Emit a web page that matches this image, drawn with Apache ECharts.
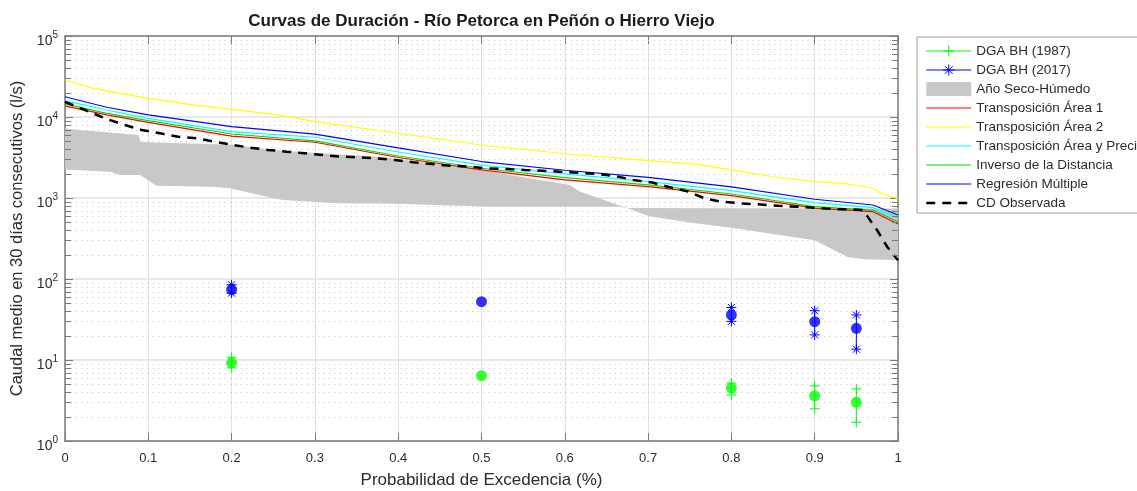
<!DOCTYPE html>
<html><head><meta charset="utf-8">
<script src="https://cdn.jsdelivr.net/npm/echarts@6/dist/echarts.min.js"></script>
<style>html,body{margin:0;padding:0;background:#fff}#c{width:1137px;height:491px}</style>
</head><body><div id="c"></div>
<script>
const FONT = '"Liberation Sans", Arial, Helvetica, sans-serif';
const TXT = '#2b2b2b';
const AX = '#7a7a7a';

const titleText = 'Curvas de Duración - Río Petorca en Peñón o Hierro Viejo';
const xAxisTitle = 'Probabilidad de Excedencia (%)';
const yAxisTitle = 'Caudal medio en 30 días consecutivos (l/s)';

// model curves
const modelP = [0, 0.05, 0.1, 0.2, 0.3, 0.4, 0.5, 0.6, 0.7, 0.8, 0.9, 0.97, 1.0];
const transArea1 = [13700, 10600, 8600, 5820, 4880, 3160, 2220, 1670, 1380, 1070, 750, 678, 477];
const transAreaPrec = [15900, 12200, 9640, 6590, 5620, 3700, 2550, 1980, 1590, 1230, 875, 760, 561];
const inversoDist = [14500, 11100, 9020, 6170, 5060, 3300, 2330, 1780, 1450, 1120, 782, 710, 510];
const regresion = [17800, 13200, 10600, 7600, 6150, 4150, 2820, 2200, 1800, 1370, 965, 820, 617];

const transArea2P = [0, 0.034, 0.1, 0.154, 0.2, 0.256, 0.3, 0.4, 0.5, 0.6, 0.7, 0.76, 0.8, 0.85, 0.9, 0.94, 0.97, 0.98, 1.0];
const transArea2 = [28600, 22600, 17000, 14100, 12400, 10600, 8750, 6300, 4510, 3520, 2900, 2600, 2220, 1830, 1590, 1490, 1320, 1140, 990];

// observed duration curve
const cdObsP = [0, 0.024, 0.048, 0.072, 0.092, 0.114, 0.136, 0.158, 0.18, 0.202, 0.222, 0.244, 0.266, 0.288, 0.31, 0.33, 0.352, 0.374, 0.396, 0.418, 0.44, 0.462, 0.484, 0.506, 0.53, 0.552, 0.573, 0.594, 0.616, 0.638, 0.66, 0.682, 0.705, 0.726, 0.748, 0.768, 0.788, 0.81, 0.832, 0.856, 0.879, 0.9, 0.922, 0.942, 0.958, 0.975, 0.987, 1.0];
const cdObs = [15400, 12200, 9640, 7950, 6910, 6300, 5710, 5460, 4950, 4520, 4180, 3920, 3730, 3560, 3390, 3240, 3180, 3090, 2940, 2760, 2630, 2500, 2450, 2320, 2280, 2220, 2170, 2110, 2050, 1980, 1870, 1670, 1550, 1360, 1200, 990, 900, 860, 835, 800, 780, 760, 730, 725, 710, 400, 250, 170];

// dry-wet year band
const bandTopP = [0, 0.018, 0.088, 0.091, 0.2, 0.25, 0.3, 0.378, 0.5, 0.57, 0.606, 0.618, 0.658, 0.675, 0.8, 0.96, 1.0];
const bandTop = [7200, 6900, 6000, 4900, 4550, 3900, 3600, 3240, 2220, 1670, 1450, 1200, 860, 750, 745, 740, 740];
const bandBottomP = [0, 0.054, 0.066, 0.09, 0.11, 0.178, 0.198, 0.25, 0.262, 0.326, 0.4, 0.51, 0.665, 0.675, 0.7, 0.75, 0.8, 0.85, 0.9, 0.94, 0.96, 1.0];
const bandBottom = [2250, 2110, 1920, 1920, 1420, 1380, 1320, 990, 945, 860, 850, 780, 780, 750, 600, 500, 430, 360, 300, 185, 175, 172];

// DGA balance hídrico points
const dgaP = [0.2, 0.5, 0.8, 0.9, 0.95];
const dga1987 = [9.3, 6.4, 4.5, 3.6, 3.0];
const dga2017 = [74, 52.5, 36, 29.7, 24.6];
const errP = [0.2, 0.8, 0.9, 0.95];
const dga1987Low = [8.0, 3.7, 2.5, 1.7];
const dga1987High = [10.8, 5.2, 4.8, 4.4];
const dga2017Low = [67, 30, 20.4, 13.6];
const dga2017High = [85, 44.5, 40.6, 36];

const xTicks = {min: 0, max: 1, interval: 0.1};
const decades = [1, 10, 100, 1000, 10000, 100000];

const names = ['DGA BH (1987)', 'DGA BH (2017)', 'Año Seco-Húmedo', 'Transposición Área 1', 'Transposición Área 2', 'Transposición Área y Precipitación', 'Inverso de la Distancia', 'Regresión Múltiple', 'CD Observada'];

function zip(xs, ys) { return xs.map((x, i) => [x, ys[i]]); }
function errData(ps, lo, hi) {
  const out = [];
  ps.forEach((p, i) => { if (i) out.push([p, '-']); out.push([p, lo[i]]); out.push([p, hi[i]]); });
  return out;
}
const minorVals = [];
for (let k = 0; k < decades.length - 1; k++) for (let m = 2; m <= 9; m++) minorVals.push(m * decades[k]);

const PLUS = 'path://M5,0L5,10M0,5L10,5';
const STAR = 'path://M5,0L5,10M0,5L10,5M1.5,1.5L8.5,8.5M1.5,8.5L8.5,1.5';

function plainLine(name, xs, ys, color, width, extra) {
  return Object.assign({
    name, type: 'line', data: zip(xs, ys), symbol: 'none', showSymbol: false,
    lineStyle: {color, width}, itemStyle: {color: 'rgba(0,0,0,0)', borderColor: 'rgba(0,0,0,0)', borderWidth: 0},
    z: 3, silent: true, animation: false
  }, extra || {});
}

const chart = echarts.init(document.getElementById('c'), null, {renderer: 'canvas'});
const axisLbl = {color: TXT, fontFamily: FONT, fontSize: 13};
chart.setOption({
  animation: false,
  backgroundColor: '#fff',
  grid: {left: 65, right: 239, top: 36, bottom: 50, containLabel: false, outerBoundsMode: 'none'},
  xAxis: [
    {type: 'value', min: xTicks.min, max: xTicks.max, interval: xTicks.interval, position: 'bottom',
     name: xAxisTitle, nameLocation: 'middle', nameGap: 31,
     nameTextStyle: {fontFamily: FONT, fontSize: 17, color: TXT},
     axisLine: {show: true, onZero: false, lineStyle: {color: AX, width: 1.5}},
     axisTick: {inside: true, length: 8, lineStyle: {color: AX}},
     axisLabel: Object.assign({margin: 11}, axisLbl),
     splitLine: {show: true, lineStyle: {color: '#e2e2e2', width: 1}}},
    {type: 'value', min: xTicks.min, max: xTicks.max, interval: xTicks.interval, position: 'top',
     name: titleText, nameLocation: 'middle', nameGap: 6,
     nameTextStyle: {fontFamily: FONT, fontSize: 17, fontWeight: 'bold', color: '#1a1a1a'},
     axisLine: {show: true, onZero: false, lineStyle: {color: AX, width: 1.5}},
     axisTick: {inside: true, length: 8, lineStyle: {color: AX}},
     axisLabel: {show: false}, splitLine: {show: false}}
  ],
  yAxis: [
    {type: 'log', logBase: 10, min: decades[0], max: decades[decades.length - 1], position: 'left',
     name: yAxisTitle, nameLocation: 'middle', nameGap: 36, nameRotate: 90,
     nameTextStyle: {fontFamily: FONT, fontSize: 16.5, color: TXT},
     axisLine: {show: true, onZero: false, lineStyle: {color: AX, width: 1.5}},
     axisTick: {inside: true, length: 8, lineStyle: {color: AX}},
     axisLabel: {margin: 7, padding: [7, 0, 0, 0],
       formatter: v => '{b|10}{s|' + Math.round(Math.log10(v)) + '}',
       rich: {b: {fontSize: 14, lineHeight: 18, verticalAlign: 'bottom', color: TXT, fontFamily: FONT},
              s: {fontSize: 10, lineHeight: 18, verticalAlign: 'top', color: TXT, fontFamily: FONT}}},
     splitLine: {show: true, lineStyle: {color: '#e8e8e8', width: 2}}},
    {type: 'log', logBase: 10, min: decades[0], max: decades[decades.length - 1], position: 'right',
     axisLine: {show: true, onZero: false, lineStyle: {color: AX, width: 1.5}},
     axisTick: {inside: true, length: 8, lineStyle: {color: AX}},
     axisLabel: {show: false}, splitLine: {show: false}}
  ],
  legend: {
    orient: 'vertical', left: 917, top: 37,
    padding: [7, 9, 3, 8], itemGap: 5, itemWidth: 45, itemHeight: 14,
    backgroundColor: '#fff', borderColor: '#9a9a9a', borderWidth: 1, borderRadius: 0,
    textStyle: {fontFamily: FONT, fontSize: 13.5, color: TXT, lineHeight: 14},
    itemStyle: {borderWidth: 1},
    lineStyle: {width: 'inherit'},
    selectedMode: false,
    data: names.map(n => n === 'Año Seco-Húmedo' ? {name: n, icon: 'rect', itemStyle: {color: '#c8c8c8', borderWidth: 0}} : {name: n})
  },
  series: [
    {type: 'custom', name: 'minorGrid', silent: true, z: 1, animation: false,
     data: minorVals.map(v => [0, v]),
     renderItem: (params, api) => {
       const y = Math.round(api.coord([0, api.value(1)])[1]) + 0.5;
       const cs = params.coordSys;
       return {type: 'line', shape: {x1: cs.x, y1: y, x2: cs.x + cs.width, y2: y},
               style: {stroke: '#c6c6c6', lineWidth: 1, lineDash: [1, 4.5]}};
     }},
    {type: 'custom', name: 'Año Seco-Húmedo', silent: true, z: 2, animation: false,
     itemStyle: {color: '#c8c8c8'},
     data: [[0.5, 1000]],
     renderItem: (params, api) => {
       const pts = [];
       bandTopP.forEach((p, i) => pts.push(api.coord([p, bandTop[i]])));
       for (let i = bandBottomP.length - 1; i >= 0; i--) pts.push(api.coord([bandBottomP[i], bandBottom[i]]));
       return {type: 'polygon', shape: {points: pts}, style: {fill: '#c8c8c8'}};
     }},
    plainLine('Transposición Área 1', modelP, transArea1, '#ff0000', 1.2),
    plainLine('Transposición Área 2', transArea2P, transArea2, '#ffff00', 1.2),
    plainLine('Transposición Área y Precipitación', modelP, transAreaPrec, '#00ffff', 1.2),
    plainLine('Inverso de la Distancia', modelP, inversoDist, '#00e000', 1.2),
    plainLine('Regresión Múltiple', modelP, regresion, '#0000ff', 1.2),
    plainLine('CD Observada', cdObsP, cdObs, '#000000', 2.5, {lineStyle: {color: '#000', width: 2.5, type: [9, 7]}, z: 4}),
    {name: 'DGA BH (1987)', type: 'line', data: errData(errP, dga1987Low, dga1987High), connectNulls: false,
     symbol: PLUS, symbolSize: 10, showSymbol: true, showAllSymbol: true,
     lineStyle: {color: '#00ff00', width: 1}, itemStyle: {color: '#00ff00', borderColor: '#00ff00', borderWidth: 1},
     z: 5, silent: true, animation: false},
    {name: 'DGA BH (2017)', type: 'line', data: errData(errP, dga2017Low, dga2017High), connectNulls: false,
     symbol: STAR, symbolSize: 10, showSymbol: true, showAllSymbol: true,
     lineStyle: {color: '#0000ff', width: 1}, itemStyle: {color: '#0000ff', borderColor: '#0000ff', borderWidth: 1},
     z: 5, silent: true, animation: false},
    {name: 'dga1987mean', type: 'scatter', data: zip(dgaP, dga1987), symbol: 'circle', symbolSize: 11,
     itemStyle: {color: '#00ff00'}, z: 6, silent: true, animation: false},
    {name: 'dga2017mean', type: 'scatter', data: zip(dgaP, dga2017), symbol: 'circle', symbolSize: 11,
     itemStyle: {color: '#0000ff'}, z: 6, silent: true, animation: false},
    {type: 'custom', name: 'minorTicks', silent: true, z: 10, animation: false,
     data: minorVals.map(v => [0, v]),
     renderItem: (params, api) => {
       const y = Math.round(api.coord([0, api.value(1)])[1]) + 0.5;
       const cs = params.coordSys;
       return {type: 'group', children: [
         {type: 'line', shape: {x1: cs.x, y1: y, x2: cs.x + 6, y2: y}, style: {stroke: AX, lineWidth: 1}},
         {type: 'line', shape: {x1: cs.x + cs.width - 6, y1: y, x2: cs.x + cs.width, y2: y}, style: {stroke: AX, lineWidth: 1}}
       ]};
     }}
  ]
});
</script></body></html>
